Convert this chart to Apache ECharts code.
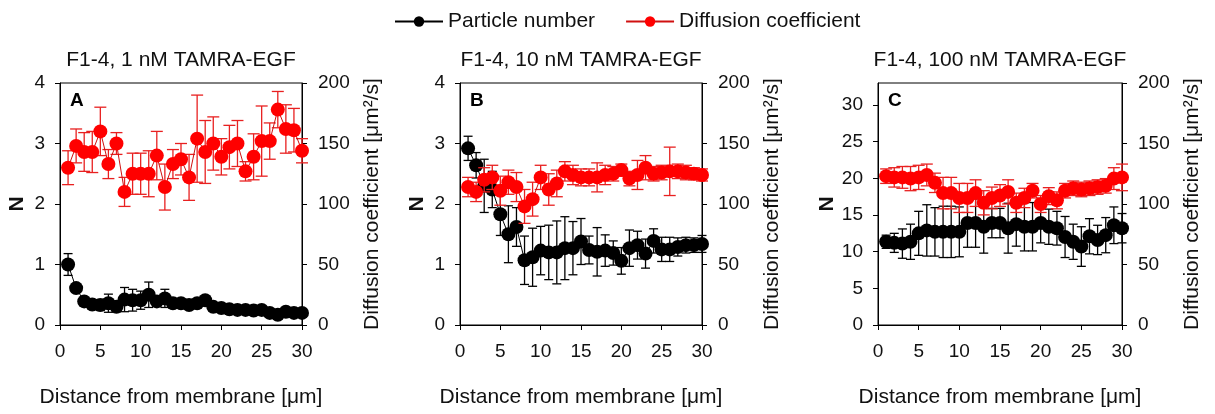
<!DOCTYPE html>
<html>
<head>
<meta charset="utf-8">
<script src="https://cdn.jsdelivr.net/npm/echarts@6/dist/echarts.min.js"></script>
<style>
html,body{margin:0;padding:0;background:#fff;}
#chart{width:1215px;height:414px;}
</style>
</head>
<body>
<div id="chart"></div>
<script>
// ---------- data ----------
const distance = [1,2,3,4,5,6,7,8,9,10,11,12,13,14,15,16,17,18,19,20,21,22,23,24,25,26,27,28,29,30];

const panelTitles = ['F1-4, 1 nM TAMRA-EGF', 'F1-4, 10 nM TAMRA-EGF', 'F1-4, 100 nM TAMRA-EGF'];
const panelLetters = ['A', 'B', 'C'];
const seriesNames = ['Particle number', 'Diffusion coefficient'];
const xAxisTitle = 'Distance from membrane [μm]';
const leftAxisTitle = 'N';
const rightAxisTitle = 'Diffusion coefficient [μm²/s]';

// Panel A (1 nM)
const nA = [1.00,0.61,0.39,0.34,0.33,0.36,0.30,0.42,0.41,0.41,0.50,0.39,0.44,0.36,0.36,0.33,0.36,0.41,0.30,0.28,0.26,0.25,0.25,0.24,0.25,0.20,0.17,0.22,0.20,0.20];
const nAErr = [0.18,0.03,0.04,0.07,0.09,0.15,0.08,0.20,0.18,0.15,0.21,0.08,0.15,0.05,0.04,0.04,0.05,0.04,0.03,0.03,0.03,0.03,0.03,0.03,0.03,0.03,0.03,0.03,0.03,0.03];
const dA = [130,148,143,143,160,133,150,110,125,125,125,140,114,133,137,122,154,143,150,139,147,150,127,139,152,152,178,162,161,144];
const dAErr = [14,14,16,17,20,12,9,12,17,17,19,20,19,12,13,19,36,26,22,15,18,19,8,19,29,15,15,20,18,10];

// Panel B (10 nM)
const nB = [2.92,2.64,2.30,2.24,1.83,1.50,1.62,1.07,1.12,1.23,1.20,1.20,1.27,1.27,1.38,1.24,1.21,1.23,1.19,1.06,1.27,1.32,1.18,1.39,1.25,1.25,1.29,1.32,1.32,1.34];
const nBErr = [0.20,0.21,0.44,0.30,0.35,0.47,0.32,0.40,0.48,0.40,0.45,0.52,0.52,0.44,0.38,0.23,0.40,0.26,0.20,0.22,0.30,0.23,0.24,0.20,0.20,0.20,0.15,0.13,0.12,0.14];
const dB = [114,110,120,122,111,118,114,98,104,122,112,117,127,124,122,122,122,124,125,128,121,124,130,125,126,127,127,126,125,124];
const dBErr = [8,8,10,10,12,10,12,14,14,10,13,11,8,8,7,7,12,8,6,5,6,12,10,6,6,20,6,6,5,5];

// Panel C (100 nM)
const nC = [11.35,11.2,11.1,11.35,12.5,12.9,12.7,12.7,12.7,12.7,13.9,13.9,13.4,13.9,13.9,13.2,13.75,13.4,13.4,13.9,13.4,13.2,12.0,11.35,10.7,12.1,11.6,12.25,13.6,13.2];
const nCErr = [0.9,1.3,2.0,2.4,3.0,3.5,3.3,3.5,3.5,3.4,3.3,3.3,3.6,2.0,2.0,3.4,3.0,3.3,3.3,2.7,2.4,2.3,2.8,2.4,2.7,2.4,2.0,2.4,2.5,2.0];
const dC = [123,122,122,121,122,124,117.5,109,109,105,105,109,101,105,107,110,101,105,111,100,106.5,103,111,113,112,113,114,115,121,122];
const dCErr = [6,8,9,10,10,9,8,13,13,12,12,11,10,9,9,10,8,8,6,7,7,7,6,6,6,6,6,6,9,11];

// axis ranges / ticks
const xTicks = [0, 30, 5];            // min, max, interval
const nAxisAB = [0, 4, 1];
const nAxisC = [0, 33, 5];
const dAxis = [0, 200, 50];

// ---------- layout ----------
const FONT = '"Liberation Sans", Arial, Helvetica, sans-serif';
const grids = [
  {left: 60, top: 83, width: 242, height: 242},
  {left: 460, top: 83, width: 242, height: 242},
  {left: 878, top: 83, width: 244, height: 242}
];
const nameGapsLeft = [32, 32, 38];
const panels = [
  {n: nA, nErr: nAErr, d: dA, dErr: dAErr, nAxis: nAxisAB},
  {n: nB, nErr: nBErr, d: dB, dErr: dBErr, nAxis: nAxisAB},
  {n: nC, nErr: nCErr, d: dC, dErr: dCErr, nAxis: nAxisC}
];

const RED = '#ff0000';
const RED_ERR = '#e82020';
const BLACK = '#000000';

function errRenderer(color, capW, lw) {
  return function (params, api) {
    const x = api.value(0), y = api.value(1), e = api.value(2);
    const t = api.coord([x, y + e]);
    const b = api.coord([x, y - e]);
    const h = capW / 2;
    const st = {stroke: color, lineWidth: lw};
    return {
      type: 'group',
      children: [
        {type: 'line', shape: {x1: t[0], y1: t[1], x2: b[0], y2: b[1]}, style: st},
        {type: 'line', shape: {x1: t[0] - h, y1: t[1], x2: t[0] + h, y2: t[1]}, style: st},
        {type: 'line', shape: {x1: b[0] - h, y1: b[1], x2: b[0] + h, y2: b[1]}, style: st}
      ]
    };
  };
}

const axisCommon = {
  axisLine: {show: true, lineStyle: {color: '#000', width: 1}},
  axisTick: {show: true, inside: false, length: 5, lineStyle: {color: '#000', width: 1}},
  splitLine: {show: false},
  axisLabel: {color: '#111', fontSize: 19, fontFamily: FONT}
};

const xAxes = [], yAxes = [], series = [], graphics = [];

grids.forEach((g, i) => {
  const p = panels[i];
  xAxes.push(Object.assign({}, axisCommon, {
    gridIndex: i, type: 'value', min: xTicks[0], max: xTicks[1], interval: xTicks[2],
    axisLabel: Object.assign({}, axisCommon.axisLabel, {margin: 17}),
    name: xAxisTitle, nameLocation: 'middle', nameGap: 62,
    nameTextStyle: {color: '#111', fontSize: 21, fontFamily: FONT}
  }));
  // left N axis
  yAxes.push(Object.assign({}, axisCommon, {
    gridIndex: i, type: 'value', position: 'left',
    min: p.nAxis[0], max: p.nAxis[1], interval: p.nAxis[2],
    axisLabel: Object.assign({}, axisCommon.axisLabel, {margin: 15, showMaxLabel: i === 2 ? false : true}),
    name: leftAxisTitle, nameLocation: 'middle', nameGap: nameGapsLeft[i], nameRotate: 90,
    nameTextStyle: {color: '#111', fontSize: 21, fontWeight: 'bold', fontFamily: FONT}
  }));
  // right D axis
  yAxes.push(Object.assign({}, axisCommon, {
    gridIndex: i, type: 'value', position: 'right',
    min: dAxis[0], max: dAxis[1], interval: dAxis[2],
    axisLabel: Object.assign({}, axisCommon.axisLabel, {margin: 16}),
    name: rightAxisTitle, nameLocation: 'middle', nameGap: 60, nameRotate: 90,
    nameTextStyle: {color: '#111', fontSize: 21, fontFamily: FONT}
  }));

  const nErrData = distance.map((x, k) => [x, p.n[k], p.nErr[k]]);
  const dErrData = distance.map((x, k) => [x, p.d[k], p.dErr[k]]);

  series.push({
    type: 'custom', xAxisIndex: i, yAxisIndex: 2 * i,
    renderItem: errRenderer(BLACK, 9, 1.3), data: nErrData,
    encode: {x: 0, y: 1}, z: 2, silent: true
  });
  series.push({
    type: 'line', name: seriesNames[0], xAxisIndex: i, yAxisIndex: 2 * i,
    data: distance.map((x, k) => [x, p.n[k]]),
    symbol: 'circle', symbolSize: 14, showSymbol: true,
    itemStyle: {color: BLACK}, lineStyle: {color: BLACK, width: 1}, z: 3
  });
  series.push({
    type: 'custom', xAxisIndex: i, yAxisIndex: 2 * i + 1,
    renderItem: errRenderer(RED_ERR, 12, 1.3), data: dErrData,
    encode: {x: 0, y: 1}, z: 4, silent: true
  });
  series.push({
    type: 'line', name: seriesNames[1], xAxisIndex: i, yAxisIndex: 2 * i + 1,
    data: distance.map((x, k) => [x, p.d[k]]),
    symbol: 'circle', symbolSize: 14, showSymbol: true,
    itemStyle: {color: RED}, lineStyle: {color: '#d01010', width: 1}, z: 5
  });

  graphics.push({
    type: 'text', x: g.left + g.width / 2, y: 60,
    style: {text: panelTitles[i], font: '21px ' + FONT, fill: '#111', align: 'center', verticalAlign: 'middle'}
  });
  graphics.push({
    type: 'text', x: g.left + 10, y: 101,
    style: {text: panelLetters[i], font: 'bold 19px ' + FONT, fill: '#000', align: 'left', verticalAlign: 'middle'}
  });
});

const chart = echarts.init(document.getElementById('chart'), null, {renderer: 'canvas'});
chart.setOption({
  animation: false,
  backgroundColor: '#fff',
  grid: grids.map(g => Object.assign({show: true, borderColor: '#000', borderWidth: 1, backgroundColor: 'transparent'}, g)),
  legend: {
    data: seriesNames, top: 6, left: 389,
    itemWidth: 48, itemHeight: 13, itemGap: 30,
    lineStyle: {width: 2},
    textStyle: {color: '#111', fontSize: 21, fontFamily: FONT}
  },
  xAxis: xAxes,
  yAxis: yAxes,
  series: series,
  graphic: graphics
});
</script>
</body>
</html>
